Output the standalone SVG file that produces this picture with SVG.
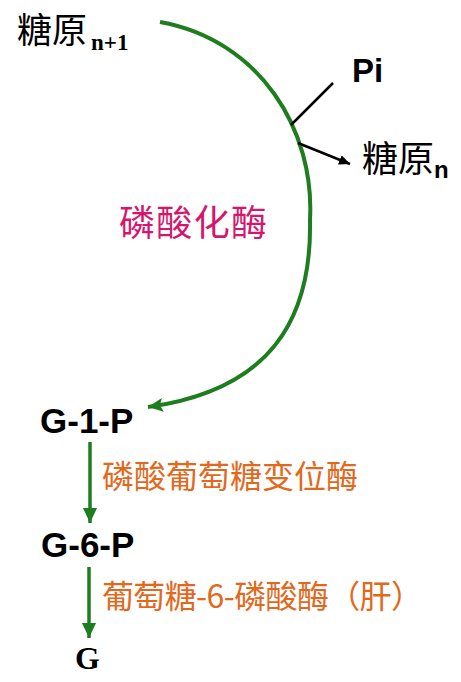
<svg xmlns="http://www.w3.org/2000/svg" width="461" height="682" viewBox="0 0 461 682">
<style>
.cjk{font-family:"Noto Sans CJK SC","Noto Sans CJK JP",sans-serif;}
.blk{fill:#000;}
.lab{font-family:"Liberation Sans",Arial,sans-serif;font-weight:bold;fill:#000;}
.sub{font-family:"Liberation Serif","Times New Roman",serif;font-weight:bold;fill:#000;}
.mag{fill:#D4166C;}
.org{fill:#E2681C;}
.g{fill:none;stroke:#1E7D1E;}
.k{fill:none;stroke:#000;stroke-width:2.5;}
</style>
<defs>
<marker id="ga" markerUnits="userSpaceOnUse" markerWidth="16" markerHeight="14" refX="15" refY="7" orient="auto">
<path d="M0,0 L15,7 L0,14 L3,7 Z" fill="#1E7D1E"/>
</marker>
<marker id="gv" markerUnits="userSpaceOnUse" markerWidth="16" markerHeight="14" refX="15" refY="7" orient="auto">
<path d="M0,0 L15,7 L0,14 Z" fill="#1E7D1E"/>
</marker>
<marker id="ka" markerUnits="userSpaceOnUse" markerWidth="12" markerHeight="10" refX="11" refY="5" orient="auto">
<path d="M0,0 L11,5 L0,10 Z" fill="#000"/>
</marker>
</defs>
<g id="connectors">
<path id="arc" class="g" stroke-width="4" d="M160,22 C260,40 315,130 310,220 C312,320 270,390 148,407" marker-end="url(#ga)"/>
<line id="pi-line" class="k" x1="291" y1="125" x2="333" y2="83"/>
<line id="glyn-arrow" class="k" x1="298" y1="143" x2="350" y2="164" marker-end="url(#ka)"/>
<line id="a1" class="g" stroke-width="3.5" x1="90" y1="442" x2="90" y2="523" marker-end="url(#gv)"/>
<line id="a2" class="g" stroke-width="3.5" x1="89" y1="567" x2="89" y2="638" marker-end="url(#gv)"/>
</g>
<g id="glycogen-n1">
<text class="cjk blk" x="17" y="43" font-size="35">糖原</text>
<text class="sub" x="91" y="50" font-size="23">n+1</text>
</g>
<g id="pi">
<text class="lab" x="352" y="82" font-size="33">Pi</text>
</g>
<g id="glycogen-n">
<text class="cjk blk" x="362" y="172" font-size="36">糖原</text>
<text class="lab" x="434" y="178" font-size="24">n</text>
</g>
<g id="enzyme1">
<text class="cjk mag" x="119" y="236" font-size="36" textLength="148" lengthAdjust="spacing">磷酸化酶</text>
</g>
<g id="g1p">
<text class="lab" x="40" y="433" font-size="35">G-1-P</text>
</g>
<g id="enzyme2">
<text class="cjk org" x="102" y="488" font-size="32" textLength="256" lengthAdjust="spacing">磷酸葡萄糖变位酶</text>
</g>
<g id="g6p">
<text class="lab" x="41" y="557" font-size="35">G-6-P</text>
</g>
<g id="enzyme3">
<text class="cjk org" x="102" y="608" font-size="32" textLength="321" lengthAdjust="spacing">葡萄糖-6-磷酸酶（肝）</text>
</g>
<g id="glucose">
<text class="sub" x="75" y="669" font-size="32">G</text>
</g>
</svg>
